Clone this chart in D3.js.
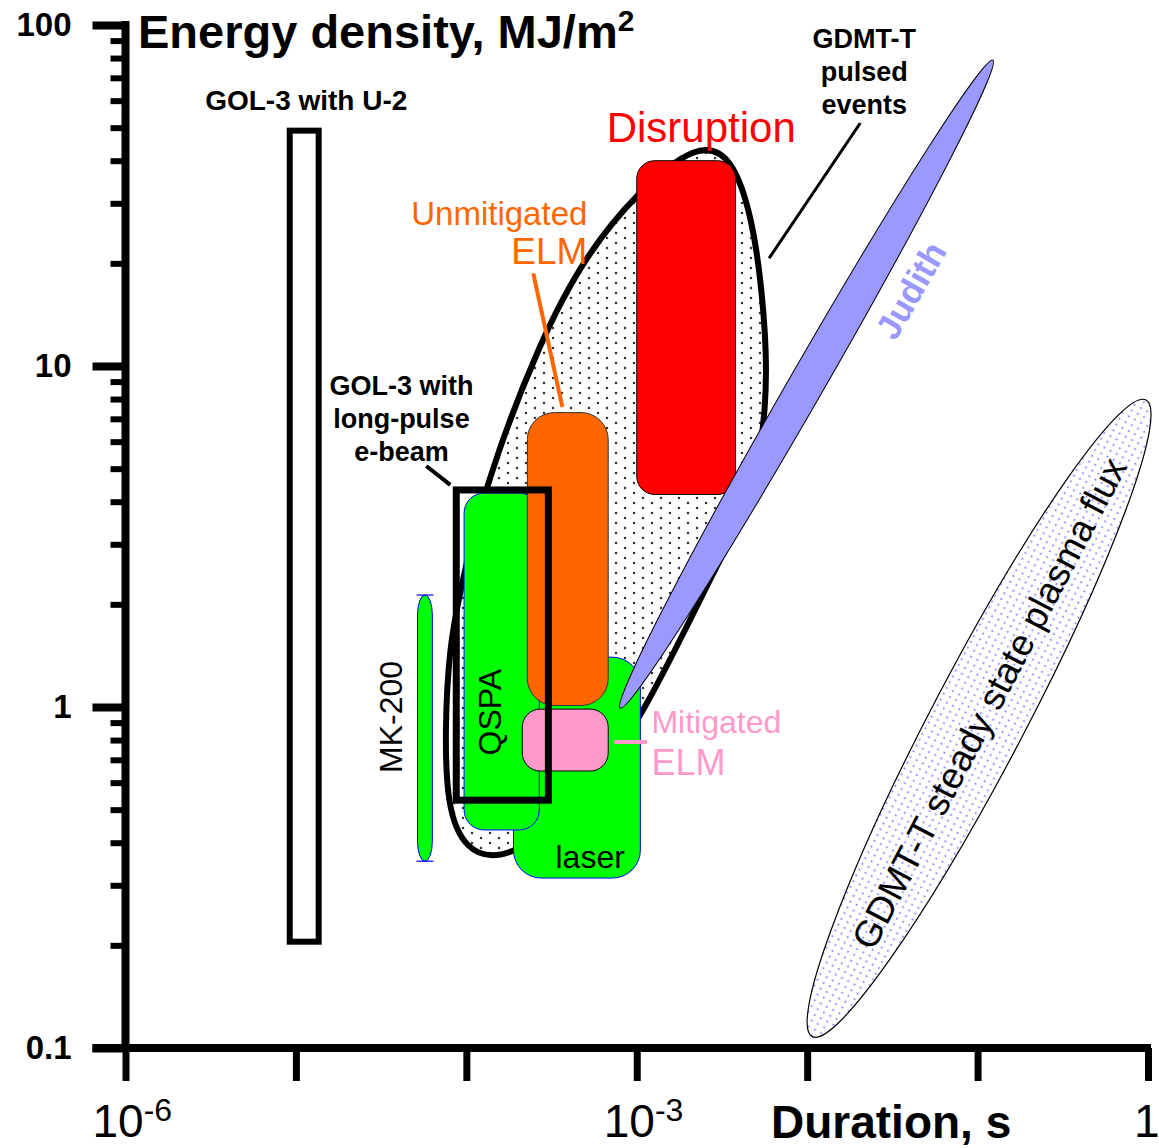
<!DOCTYPE html>
<html>
<head>
<meta charset="utf-8">
<script src="https://cdn.jsdelivr.net/npm/d3@7"></script>
<style>
  body { margin: 0; background: #fff; }
  svg { display: block; }
  text { font-family: "Liberation Sans", Arial, sans-serif; }
</style>
</head>
<body>
<svg id="chart" width="1159" height="1148"></svg>
<script>
const width = 1159;
const height = 1148;

// axis ticks
const yMajor = [0.1, 1, 10, 100];
const yMajorLabels = ['0.1', '1', '10', '100'];
const xMajor = [1e-6, 1e-5, 1e-4, 1e-3, 1e-2, 1e-1, 1];
const xLabels = [[1e-6, '10', '-6'], [1e-3, '10', '-3'], [1, '1', '']];

// boxes: [t min, t max, E min, E max]  (s, MJ/m2)
const gol3U2 = [9.2e-6, 1.36e-5, 0.205, 49];
const disruption = [1e-3, 3.8e-3, 4.2, 40];
const unmitigatedElm = [2.28e-4, 6.8e-4, 1.01, 7.3];
const qspa = [9.7e-5, 2.68e-4, 0.436, 4.24];
const laser = [1.89e-4, 1.05e-3, 0.315, 1.4];
const mitigatedElm = [2.13e-4, 6.8e-4, 0.649, 0.986];
const mk200 = [5.17e-5, 6.32e-5, 0.353, 2.13];
const gol3Long = [8.73e-5, 3.03e-4, 0.533, 4.33];

// GDMT-T pulsed events outline [t, E], clockwise from the top
const pulsedT = [2.257e-3, 3.67e-3, 4.81e-3, 5.43e-3, 5.89e-3, 5.43e-3, 4.315e-3, 3.08e-3, 1.919e-3,
  1.196e-3, 5.32e-4, 1.686e-4, 9.69e-5, 7.70e-5, 7.49e-5, 7.91e-5, 9.18e-5, 1.287e-4, 2.705e-4,
  5.105e-4, 1.003e-3];
const pulsedE = [45.4, 41.3, 26.4, 16.7, 9.73, 5.67, 3.78, 2.70, 1.682,
  1.048, 0.534, 0.3465, 0.3807, 0.5127, 0.856, 1.47, 2.20, 4.48, 11.92,
  21.4, 32.2];

// ellipses: ends of the long axis [t, E], and short/long ratio
const judithEnds = [[8.0e-4, 0.993], [0.123, 78.9]];
const judithRatio = 0.047;
const steadyEnds = [[0.0107, 0.108], [0.973, 7.95]];
const steadyRatio = 0.13;

// leader lines [[t, E], [t, E]]
const unmitLeader = [[2.47e-4, 18.7], [3.66e-4, 7.58]];
const mitLeader = [[7.38e-4, 0.789], [1.15e-3, 0.789]];
const gol3Leader = [[5.82e-5, 5.09], [8.05e-5, 4.48]];
const pulsedLeader = [[0.0205, 51.6], [5.98e-3, 20.7]];

const x = d3.scaleLog().domain([1e-6, 1]).range([125.5, 1148]);
const y = d3.scaleLog().domain([0.1, 100]).range([1048, 25]);

const svg = d3.select('#chart');
const defs = svg.append('defs');

// dotted fills
const pk = defs.append('pattern').attr('id', 'dotsK')
  .attr('patternUnits', 'userSpaceOnUse').attr('width', 18).attr('height', 10);
pk.append('rect').attr('width', 18).attr('height', 10).attr('fill', '#fff');
pk.append('circle').attr('cx', 4).attr('cy', 3).attr('r', 1.25).attr('fill', '#333');
pk.append('circle').attr('cx', 13).attr('cy', 8).attr('r', 1.25).attr('fill', '#333');

const pb = defs.append('pattern').attr('id', 'dotsB')
  .attr('patternUnits', 'userSpaceOnUse').attr('width', 6.5).attr('height', 7);
pb.append('rect').attr('width', 6.5).attr('height', 7).attr('fill', '#fff');
pb.append('circle').attr('cx', 3).attr('cy', 3.5).attr('r', 1).attr('fill', '#7a7aff');

function ellipse(g, ends, ratio) {
  const [p, q] = ends.map(([t, e]) => [x(t), y(e)]);
  const cx = (p[0] + q[0]) / 2;
  const cy = (p[1] + q[1]) / 2;
  const a = Math.hypot(q[0] - p[0], q[1] - p[1]) / 2;
  const ang = Math.atan2(q[1] - p[1], q[0] - p[0]) * 180 / Math.PI;
  return g.append('ellipse')
    .attr('cx', cx).attr('cy', cy)
    .attr('rx', a).attr('ry', a * ratio)
    .attr('transform', `rotate(${ang} ${cx} ${cy})`);
}

function angleOf(ends) {
  const [p, q] = ends.map(([t, e]) => [x(t), y(e)]);
  return Math.atan2(q[1] - p[1], q[0] - p[0]) * 180 / Math.PI;
}

function box(g, [t0, t1, e0, e1], r) {
  return g.append('rect')
    .attr('x', x(t0)).attr('y', y(e1))
    .attr('width', x(t1) - x(t0)).attr('height', y(e0) - y(e1))
    .attr('rx', r);
}

function leader(g, pts, color, w) {
  g.append('line')
    .attr('x1', x(pts[0][0])).attr('y1', y(pts[0][1]))
    .attr('x2', x(pts[1][0])).attr('y2', y(pts[1][1]))
    .attr('stroke', color).attr('stroke-width', w);
}

const plot = svg.append('g');

// GDMT-T steady state
ellipse(plot, steadyEnds, steadyRatio)
  .attr('fill', 'url(#dotsB)').attr('stroke', '#000').attr('stroke-width', 1.2);

// GDMT-T pulsed events
const outline = d3.line()
  .x((i) => x(pulsedT[i]))
  .y((i) => y(pulsedE[i]))
  .curve(d3.curveBasisClosed);
plot.append('path')
  .attr('d', outline(d3.range(pulsedT.length)))
  .attr('fill', 'url(#dotsK)').attr('stroke', '#000').attr('stroke-width', 6);

box(plot, disruption, 18).attr('fill', '#ff0000').attr('stroke', '#000').attr('stroke-width', 1);
box(plot, laser, 28).attr('fill', '#00ff00').attr('stroke', '#0000ff').attr('stroke-width', 1);

ellipse(plot, judithEnds, judithRatio)
  .attr('fill', '#9999ff').attr('stroke', '#000').attr('stroke-width', 1);

box(plot, qspa, 20).attr('fill', '#00ff00').attr('stroke', '#0000ff').attr('stroke-width', 1);
box(plot, unmitigatedElm, 27).attr('fill', '#ff6600').attr('stroke', '#333').attr('stroke-width', 1);
box(plot, mitigatedElm, 18).attr('fill', '#ff99cc').attr('stroke', '#000').attr('stroke-width', 1);

// MK-200 bar with caps
const mkW = x(mk200[1]) - x(mk200[0]);
box(plot, mk200, mkW / 2).attr('ry', 20)
  .attr('fill', '#00ff00').attr('stroke', '#0000ff').attr('stroke-width', 1);
[mk200[2], mk200[3]].forEach((e) => {
  plot.append('line')
    .attr('x1', x(mk200[0]) - 1).attr('x2', x(mk200[1]) + 1)
    .attr('y1', y(e)).attr('y2', y(e))
    .attr('stroke', '#0000ff').attr('stroke-width', 1.2);
});

box(plot, gol3U2, 0).attr('fill', '#fff').attr('stroke', '#000').attr('stroke-width', 6);
box(plot, gol3Long, 0).attr('fill', 'none').attr('stroke', '#000').attr('stroke-width', 7);

leader(plot, unmitLeader, '#ff6600', 4);
leader(plot, mitLeader, '#ff99cc', 4);
leader(plot, gol3Leader, '#000', 4);
leader(plot, pulsedLeader, '#000', 3);

// labels
function label(t, e, lines, opts) {
  const txt = plot.append('text')
    .attr('x', x(t)).attr('y', y(e))
    .attr('text-anchor', opts.anchor || 'middle')
    .attr('font-size', opts.size)
    .attr('font-weight', opts.bold ? 'bold' : 'normal')
    .attr('fill', opts.color || '#000');
  if (opts.rotate) {
    txt.attr('dominant-baseline', 'central')
      .attr('transform', `rotate(${opts.rotate} ${x(t)} ${y(e)})`);
  }
  lines.forEach((s, i) => {
    txt.append('tspan').attr('x', x(t)).attr('dy', i === 0 ? 0 : opts.lh).text(s);
  });
  return txt;
}

label(1.15e-5, 56.3, ['GOL-3 with U-2'], { size: 28, bold: true });
label(4.16e-5, 8.22, ['GOL-3 with', 'long-pulse', 'e-beam'], { size: 27, bold: true, lh: 33 });
label(0.0216, 85.7, ['GDMT-T', 'pulsed', 'events'], { size: 27, bold: true, lh: 33 });
label(2.39e-3, 45.4, ['Disruption'], { size: 42, color: '#ff0000' });
label(5.13e-4, 25.9, ['Unmitigated'], { size: 33, color: '#ff6600', anchor: 'end' });
label(5.13e-4, 19.9, ['ELM'], { size: 37, color: '#ff6600', anchor: 'end' });
label(1.22e-3, 0.839, ['Mitigated'], { size: 32, color: '#ff99cc', anchor: 'start' });
label(1.22e-3, 0.632, ['ELM'], { size: 36, color: '#ff99cc', anchor: 'start' });
label(1.38e-4, 0.966, ['QSPA'], { size: 32, rotate: -90 });
label(3.63e-5, 0.935, ['MK-200'], { size: 32, rotate: -90 });
label(5.33e-4, 0.337, ['laser'], { size: 32 });
label(0.0402, 16.7, ['Judith'], { size: 35, bold: true, color: '#9999ff', rotate: angleOf(judithEnds) });
label(0.1167, 1.027, ['GDMT-T steady state plasma flux'], { size: 37, rotate: angleOf(steadyEnds) });

// axes
const yMinor = [];
[0.1, 1, 10].forEach((d) => { for (let k = 2; k <= 9; k++) yMinor.push(d * k); });

const axes = svg.append('g');

const yMinorG = axes.append('g').attr('transform', `translate(${x(1e-6)},0)`)
  .call(d3.axisLeft(y).tickValues(yMinor).tickSize(15).tickSizeOuter(0).tickFormat(''));
yMinorG.select('.domain').remove();
yMinorG.selectAll('.tick line').attr('stroke-width', 6).attr('stroke', '#000');

const yG = axes.append('g').attr('transform', `translate(${x(1e-6)},0)`)
  .call(d3.axisLeft(y).tickValues(yMajor).tickSize(33).tickSizeOuter(0).tickPadding(21)
    .tickFormat((d, i) => yMajorLabels[i]));
yG.select('.domain').attr('stroke-width', 8).attr('stroke', '#000')
  .attr('d', `M0,${y(100) - 4}V${y(0.1)}`);
yG.selectAll('.tick line').attr('stroke-width', 8).attr('stroke', '#000');
yG.selectAll('.tick text').attr('font-size', 33).attr('font-weight', 'bold')
  .attr('font-family', '"Liberation Sans", Arial, sans-serif').attr('fill', '#000');

const xG = axes.append('g').attr('transform', `translate(0,${y(0.1)})`)
  .call(d3.axisBottom(x).tickValues(xMajor).tickSize(33).tickSizeOuter(0).tickFormat(''));
xG.select('.domain').attr('stroke-width', 8).attr('stroke', '#000')
  .attr('d', `M${x(1e-6) - 33},0H${x(1) + 3}`);
xG.selectAll('.tick line').attr('stroke-width', 7).attr('stroke', '#000');

xLabels.forEach(([v, base, sup]) => {
  const t = axes.append('text')
    .attr('x', x(v) + (sup ? -33 : -14)).attr('y', y(0.1) + 89)
    .attr('font-size', 46).attr('fill', '#000');
  t.append('tspan').text(base);
  if (sup) t.append('tspan').attr('font-size', 32).attr('dy', -16).text(sup);
});

axes.append('text').attr('x', 771).attr('y', 1138)
  .attr('font-size', 46).attr('font-weight', 'bold').text('Duration, s');

const title = axes.append('text').attr('x', 138).attr('y', 48)
  .attr('font-size', 47).attr('font-weight', 'bold');
title.append('tspan').text('Energy density, MJ/m');
title.append('tspan').attr('font-size', 30).attr('dy', -17).text('2');
</script>
</body>
</html>
